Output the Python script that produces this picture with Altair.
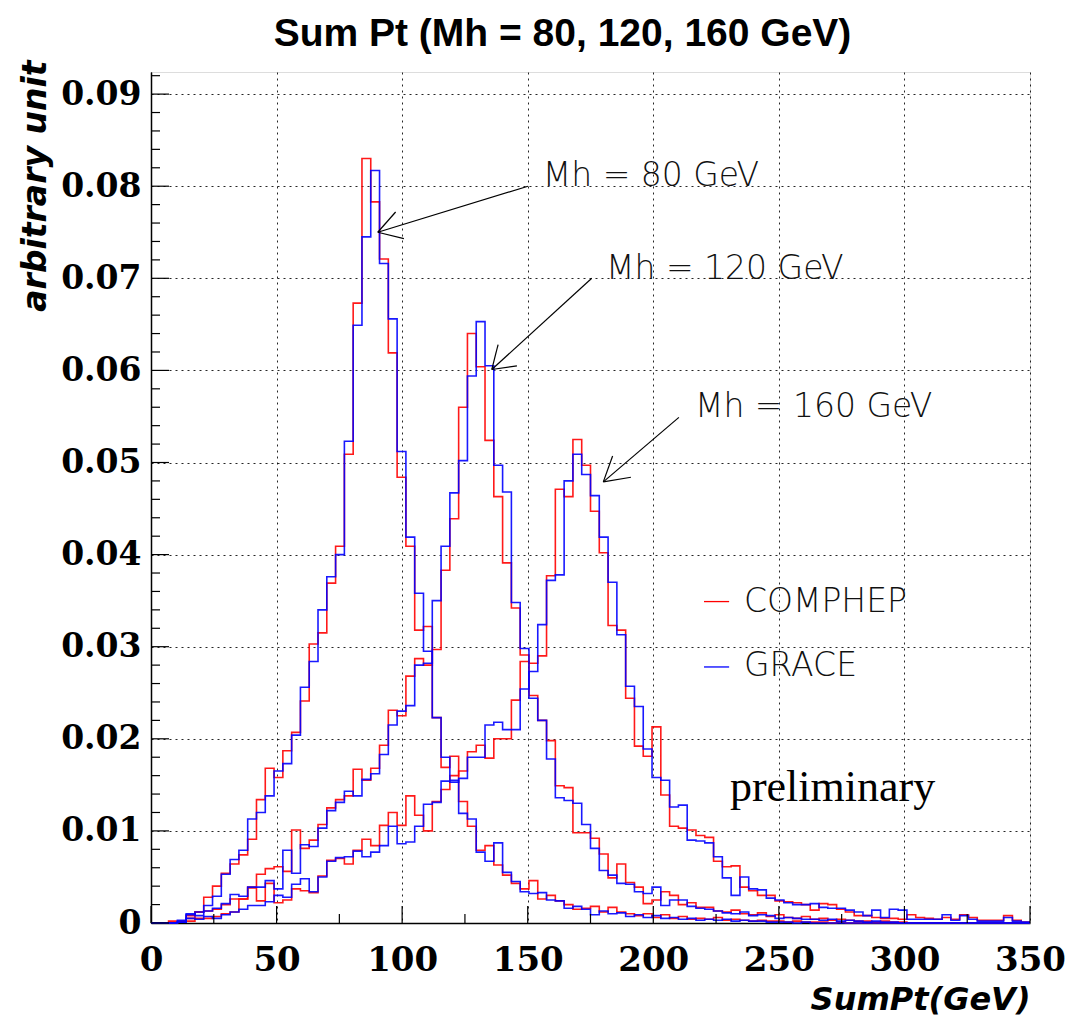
import altair as alt
import pandas as pd

BIN_W = 3.5
N_BINS = 100
edges = [round(i * BIN_W, 2) for i in range(N_BINS + 1)]

# bin contents (bins of 3.5 GeV from 0 to 350 GeV)
mh80_comphep = [0, 0, .0002, .0002, .0008, .0012, .0028, .0040, .0054, .0064,
                .0074, .0091, .0134, .0168, .0158, .0187, .0207, .0241, .0303, .0315,
                .0369, .0409, .0509, .0673, .0830, .0783, .0721, .0619, .0484, .0409,
                .0318, .0322, .0223, .0169, .0181, .0132, .0105, .0079, .0084, .0063,
                .0052, .0043, .0037, .0046, .0026, .0030, .0024, .0020, .0015, .0016,
                .0018, .0012, .0017, .0012, .0010, .0008, .0010, .0006, .0009, .0005,
                .0007, .0004, .0005, .0004, .0006, .0003, .0004, .0003, .0002, .0003,
                .0002, .0002, .0001, .0002, .0001, .0001, .0001, 0, .0001, 0]
mh80_grace = [0, 0, 0, .0003, .0009, .0012, .0019, .0029, .0053, .0069,
              .0079, .0113, .0120, .0138, .0165, .0173, .0204, .0256, .0284, .0340,
              .0376, .0400, .0523, .0649, .0745, .0817, .0716, .0656, .0512, .0419,
              .0358, .0295, .0223, .0180, .0155, .0119, .0113, .0077, .0067, .0087,
              .0055, .0045, .0034, .0032, .0033, .0025, .0024, .0016, .0018, .0015,
              .0009, .0013, .0010, .0011, .0007, .0009, .0006, .0008, .0005, .0006,
              .0004, .0005, .0003, .0004, .0003, .0004, .0002, .0003, .0002, .0002,
              .0001, .0001, .0001, 0, .0001]
mh120_comphep = [0, 0, 0, .0001, .0005, .0012, .0013, .0015, .0020, .0026,
                 .0026, .0039, .0053, .0059, .0061, .0056, .0101, .0081, .0090, .0107,
                 .0125, .0134, .0138, .0167, .0155, .0168, .0193, .0231, .0225, .0268,
                 .0287, .0280, .0297, .0383, .0439, .0560, .0640, .0604, .0524, .0463,
                 .0391, .0342, .0291, .0247, .0220, .0198, .0149, .0147, .0098, .0098,
                 .0092, .0075, .0049, .0064, .0044, .0039, .0021, .0025, .0034, .0030,
                 .0020, .0022, .0017, .0017, .0013, .0012, .0014, .0010, .0009, .0011,
                 .0007, .0009, .0006, .0005, .0007, .0004, .0005, .0003, .0004, .0003,
                 .0002, .0002, .0001, .0002, .0001, .0001]
mh120_grace = [0, 0, 0, .0001, .0010, .0008, .0013, .0016, .0021, .0031,
               .0029, .0039, .0039, .0046, .0037, .0079, .0054, .0085, .0083, .0103,
               .0122, .0131, .0143, .0138, .0156, .0162, .0183, .0215, .0230, .0236,
               .0280, .0282, .0350, .0409, .0467, .0502, .0594, .0653, .0605, .0497,
               .0468, .0348, .0298, .0244, .0220, .0178, .0136, .0133, .0130, .0107,
               .0081, .0057, .0052, .0043, .0042, .0034, .0032, .0039, .0019, .0025,
               .0025, .0018, .0016, .0015, .0013, .0011, .0010, .0012, .0008, .0009,
               .0008, .0005, .0006, .0005, .0004, .0004, .0003, .0004, .0002, .0003,
               .0002, .0001, .0002, .0001, .0001]
mh160_comphep = [0, 0, 0, .0001, .0002, .0005, .0005, .0007, .0010, .0012,
                 .0026, .0038, .0024, .0043, .0022, .0025, .0037, .0035, .0033, .0051,
                 .0068, .0070, .0064, .0079, .0091, .0084, .0106, .0120, .0106, .0138,
                 .0117, .0100, .0132, .0145, .0160, .0165, .0186, .0193, .0179, .0200,
                 .0200, .0242, .0284, .0282, .0290, .0377, .0471, .0463, .0525, .0497,
                 .0447, .0402, .0323, .0318, .0244, .0192, .0181, .0213, .0139, .0105,
                 .0103, .0101, .0095, .0093, .0067, .0061, .0062, .0039, .0035, .0030,
                 .0030, .0024, .0023, .0022, .0020, .0014, .0021, .0020, .0015, .0012,
                 .0008, .0008, .0006, .0005, .0005, .0004, .0009, .0006, .0005, .0004,
                 .0006, .0004, .0009, .0006, .0003, .0003, .0003, .0008, .0003, .0001]
mh160_grace = [0, 0, 0, .0001, .0005, .0004, .0007, .0005, .0009, .0012,
               .0015, .0019, .0019, .0023, .0030, .0028, .0042, .0048, .0034, .0050,
               .0067, .0071, .0072, .0078, .0072, .0077, .0084, .0105, .0086, .0088,
               .0105, .0129, .0131, .0154, .0153, .0157, .0180, .0180, .0215, .0218,
               .0210, .0210, .0254, .0273, .0324, .0372, .0378, .0480, .0509, .0487,
               .0464, .0419, .0370, .0313, .0257, .0235, .0189, .0158, .0155, .0126,
               .0128, .0090, .0089, .0087, .0072, .0049, .0030, .0050, .0037, .0036,
               .0027, .0025, .0022, .0020, .0020, .0021, .0017, .0016, .0016, .0014,
               .0012, .0008, .0014, .0006, .0015, .0014, .0004, .0004, .0004, .0004,
               .0009, .0003, .0008, .0004, .0002, .0002, .0002, .0006, .0002, .0001]

# annotation texts and arrows (data units: GeV, arbitrary unit)
ann_text = ["Mh = 80 GeV", "Mh = 120 GeV", "Mh = 160 GeV"]
ann_text_x = [156.0, 181.2, 216.6]
ann_text_y = [0.0800, 0.0699, 0.0549]
arrow_x1 = [150.1, 175.5, 210.2]
arrow_y1 = [0.0800, 0.0700, 0.0549]
arrow_tip_x = [90.3, 135.7, 180.1]
arrow_tip_y = [0.0750, 0.0601, 0.0479]
head_a_x = [97.4, 138.2, 183.8]
head_a_y = [0.0772, 0.0628, 0.0507]
head_b_x = [100.7, 145.7, 191.1]
head_b_y = [0.0743, 0.0605, 0.0484]

legend_labels = ["COMPHEP", "GRACE"]
legend_colors = ["#ff0000", "#0000ff"]
legend_line_x = [220.2, 230.2]
legend_line_y = [0.0349, 0.0278]
legend_text_x = 236.1
legend_text_y = [0.0338, 0.0268]

prelim_text = "preliminary"
prelim_x = 230.5
prelim_y = 0.0132

x_ticks = [0, 50, 100, 150, 200, 250, 300, 350]
x_mid_ticks = [25, 75, 125, 175, 225, 275, 325]
y_ticks = [0, 0.01, 0.02, 0.03, 0.04, 0.05, 0.06, 0.07, 0.08, 0.09]
y_minor = [round(i * 0.002, 3) for i in range(47) if i % 5 != 0]

X_MAX = 350
Y_MAX = 0.0924
W, H = 879, 851


def hist_frame(vals, name):
    v = list(vals) + [0] * (N_BINS - len(vals))
    rows = [{"x": edges[i], "y": v[i], "s": name, "o": i} for i in range(N_BINS)]
    rows.append({"x": edges[N_BINS], "y": v[-1], "s": name, "o": N_BINS})
    return rows


red_rows = (hist_frame(mh80_comphep, "c80") + hist_frame(mh120_comphep, "c120")
            + hist_frame(mh160_comphep, "c160"))
blue_rows = (hist_frame(mh80_grace, "g80") + hist_frame(mh120_grace, "g120")
             + hist_frame(mh160_grace, "g160"))

xs = alt.Scale(domain=[0, X_MAX], nice=False, zero=False)
ys = alt.Scale(domain=[0, Y_MAX], nice=False, zero=False)

LABEL_FONT = "DejaVu Serif"

x_axis = alt.Axis(values=x_ticks, format="d", grid=True, ticks=False, tickSize=0,
                  labelFont=LABEL_FONT, labelFontWeight="bold", labelFontSize=34,
                  labelColor="black", labelPadding=20,
                  domainColor="black", domainWidth=1.5,
                  gridColor="black", gridDash=[2, 4], gridWidth=1, gridOpacity=0.85,
                  title="SumPt(GeV)", titleFont="DejaVu Sans", titleFontStyle="italic",
                  titleFontWeight="bold", titleFontSize=32, titleColor="black",
                  titleAlign="right", titleAnchor="end", titleX=W, titleY=86,
                  titleBaseline="alphabetic", labelOverlap=False, labelFlush=False)
y_axis = alt.Axis(values=y_ticks, grid=True, ticks=False, tickSize=0,
                  labelExpr="datum.value == 0 ? '0' : format(datum.value, '.2f')",
                  labelFont=LABEL_FONT, labelFontWeight="bold", labelFontSize=33,
                  labelColor="black", labelPadding=10,
                  domainColor="black", domainWidth=1.5,
                  gridColor="black", gridDash=[2, 4], gridWidth=1, gridOpacity=0.85,
                  title="arbitrary unit", titleFont="DejaVu Sans", titleFontStyle="italic",
                  titleFontWeight="bold", titleFontSize=33, titleColor="black",
                  titleAngle=-90, titleAlign="right", titleAnchor="end",
                  titleX=-116, titleY=-12, titleBaseline="middle", labelOverlap=False)

red = alt.Chart(pd.DataFrame(red_rows)).mark_line(
    interpolate="step-after", color="#ff0000", strokeWidth=1.6, opacity=0.9
).encode(
    x=alt.X("x:Q", scale=xs, axis=x_axis),
    y=alt.Y("y:Q", scale=ys, axis=y_axis),
    detail="s:N", order="o:Q",
)
blue = alt.Chart(pd.DataFrame(blue_rows)).mark_line(
    interpolate="step-after", color="#0000ff", strokeWidth=1.6, opacity=0.9
).encode(
    x=alt.X("x:Q", scale=xs), y=alt.Y("y:Q", scale=ys), detail="s:N", order="o:Q",
)

# inward ticks
ymaj = alt.Chart(pd.DataFrame({"v": y_ticks})).mark_rule(color="black", strokeWidth=1.2).encode(
    y=alt.Y("v:Q", scale=ys), x=alt.value(0), x2=alt.value(18))
ymin = alt.Chart(pd.DataFrame({"v": y_minor})).mark_rule(color="black", strokeWidth=1.2).encode(
    y=alt.Y("v:Q", scale=ys), x=alt.value(0), x2=alt.value(9))
xmaj = alt.Chart(pd.DataFrame({"v": x_ticks})).mark_rule(color="black", strokeWidth=1.2).encode(
    x=alt.X("v:Q", scale=xs), y=alt.value(H), y2=alt.value(H - 17))
xmid = alt.Chart(pd.DataFrame({"v": x_mid_ticks})).mark_rule(color="black", strokeWidth=1.2).encode(
    x=alt.X("v:Q", scale=xs), y=alt.value(H), y2=alt.value(H - 9))

ann_df = pd.DataFrame({
    "t": ann_text, "tx": ann_text_x, "ty": ann_text_y,
    "x1": arrow_x1, "y1": arrow_y1, "xt": arrow_tip_x, "yt": arrow_tip_y,
    "xa": head_a_x, "ya": head_a_y, "xb": head_b_x, "yb": head_b_y,
})
ann_text_layer = alt.Chart(ann_df).mark_text(
    align="left", baseline="alphabetic", font="DejaVu Sans", fontWeight=200,
    fontSize=33, color="#111111"
).encode(x=alt.X("tx:Q", scale=xs), y=alt.Y("ty:Q", scale=ys), text="t:N")
arrow_main = alt.Chart(ann_df).mark_rule(color="black", strokeWidth=1.2).encode(
    x=alt.X("x1:Q", scale=xs), y=alt.Y("y1:Q", scale=ys), x2="xt:Q", y2="yt:Q")
arrow_a = alt.Chart(ann_df).mark_rule(color="black", strokeWidth=1.2).encode(
    x=alt.X("xt:Q", scale=xs), y=alt.Y("yt:Q", scale=ys), x2="xa:Q", y2="ya:Q")
arrow_b = alt.Chart(ann_df).mark_rule(color="black", strokeWidth=1.2).encode(
    x=alt.X("xt:Q", scale=xs), y=alt.Y("yt:Q", scale=ys), x2="xb:Q", y2="yb:Q")

leg_df = pd.DataFrame({
    "label": legend_labels, "c": legend_colors,
    "lx1": [legend_line_x[0]] * 2, "lx2": [legend_line_x[1]] * 2,
    "ly": legend_line_y, "tx": [legend_text_x] * 2, "ty": legend_text_y,
})
leg_lines = alt.Chart(leg_df).mark_rule(strokeWidth=1.3).encode(
    x=alt.X("lx1:Q", scale=xs), x2="lx2:Q", y=alt.Y("ly:Q", scale=ys),
    color=alt.Color("c:N", scale=None))
leg_text = alt.Chart(leg_df).mark_text(
    align="left", baseline="alphabetic", font="DejaVu Sans", fontWeight=200,
    fontSize=33, color="#111111"
).encode(x=alt.X("tx:Q", scale=xs), y=alt.Y("ty:Q", scale=ys), text="label:N")

prelim = alt.Chart(pd.DataFrame({"t": [prelim_text], "x": [prelim_x], "y": [prelim_y]})).mark_text(
    align="left", baseline="alphabetic", font="Liberation Serif", fontSize=44, color="black"
).encode(x=alt.X("x:Q", scale=xs), y=alt.Y("y:Q", scale=ys), text="t:N")

chart = alt.layer(
    red, blue, ymaj, ymin, xmaj, xmid,
    arrow_main, arrow_a, arrow_b, ann_text_layer, leg_lines, leg_text, prelim,
).properties(
    width=W, height=H,
    title=alt.TitleParams("Sum Pt (Mh = 80, 120, 160 GeV)", font="Liberation Sans",
                          fontWeight="bold", fontSize=39, color="black",
                          anchor="middle", dx=-28, offset=6),
    autosize=alt.AutoSizeParams(type="none"),
    padding={"left": 143, "top": 64, "right": 35, "bottom": 105},
).configure_view(stroke="black", strokeWidth=1.2).configure(background="white")

chart.save("out.html", embed_options={"renderer": "svg", "actions": False})
